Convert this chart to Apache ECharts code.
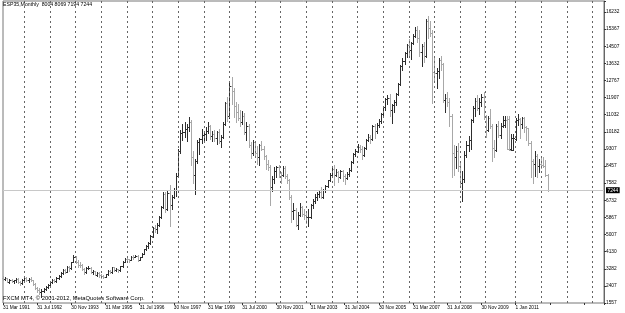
<!DOCTYPE html>
<html>
<head>
<meta charset="utf-8">
<script src="https://cdn.jsdelivr.net/npm/echarts@6/dist/echarts.min.js"></script>
<style>html,body{margin:0;padding:0;background:#fff}#c{width:625px;height:313px}</style>
</head>
<body>
<div id="c"></div>
<script>
const symbolTitle = 'ESP35,Monthly  8004 8069 7194 7244';
const copyright = 'FXCM MT4, \u00a9 2001-2012, MetaQuotes Software Corp.';
const dateLabels = ['31 Mar 1991','31 Jul 1992','30 Nov 1993','31 Mar 1995','31 Jul 1996','30 Nov 1997','31 Mar 1999','31 Jul 2000','30 Nov 2001','31 Mar 2003','31 Jul 2004','30 Nov 2005','31 Mar 2007','31 Jul 2008','30 Nov 2009','1 Jan 2011'];
const priceLabels = ['1557','2407','3282','4130','5007','5867','6732','7582','8457','9307','10182','11032','11907','12767','13632','14507','15367','16232'];
const yearStarts = [10,22,34,46,58,70,82,94,106,118,130,142,154,166,178,190,202,214,226,240,252,264,276];
const lastPrice = 7244;

const opens = [2820,2760,2830,2640,2720,2660,2700,2760,2600,
2558,2720,2830,2700,2760,2720,2540,2300,2200,2100,2180,2280,
2345,2460,2620,2700,2650,2820,2920,3050,3220,3120,3360,3300,
3615,3900,3640,3480,3450,3280,3100,3300,3330,3110,3150,2990,
3088,2950,2900,2880,3000,3170,3100,3350,3200,3260,3200,3400,
3630,3800,3770,3720,3900,3880,3950,3750,3880,4050,4270,4450,
4558,4950,5350,5300,5500,5900,6400,7050,6300,7100,6500,6900,
7255,7950,9200,10150,10200,10350,10450,10700,8900,8000,8700,9650,
9837,10050,10100,10250,10500,10000,10100,9900,10200,9750,9950,10600,
11641,11000,12500,12250,11500,11200,10900,10700,11000,10200,10500,9500,
9110,9650,9100,8900,9500,9300,8950,8550,8400,7400,7800,8200,
8398,8100,8000,8350,7950,7750,6900,6200,6250,5500,6000,6400,
6037,6000,5900,5900,6500,6700,6900,7050,7150,6900,7250,7450,
7737,8000,8300,8000,8150,7900,8200,7950,7850,8050,8250,8650,
9081,9200,9400,9300,9000,9350,9800,9950,9850,10500,10250,10550,
10734,11100,11450,11850,11900,11300,11550,11700,12100,12600,13500,13750,
14146,14550,14300,14650,15000,15300,14900,14200,14500,14000,15800,15400,
15182,13200,13150,13250,13800,13600,11800,11900,11700,10980,9100,8900,
9196,8450,7600,7800,9000,9500,9800,10800,11400,11750,11400,11700,
11940,10950,10300,10900,10500,9350,9250,10500,10050,10500,10520,10800,10810,9300,9270,
9850,10800,10850,10580,10880,10450,10360,9630,8700,8550,8950,8450,
8566,8510,8465,8004];
const highs = [2900,2860,2840,2760,2790,2730,2800,2820,2660,
2780,2880,2870,2800,2850,2740,2560,2360,2290,2250,2330,2420,
2520,2660,2760,2780,2860,2960,3100,3260,3260,3400,3420,3640,
3965,3930,3700,3600,3520,3320,3350,3420,3360,3200,3180,3120,
3100,3010,2950,3040,3200,3220,3380,3370,3330,3290,3420,3650,
3840,3880,3800,3930,3960,4000,3980,3900,4080,4300,4470,4620,
5000,5400,5500,5600,5950,6450,7150,7150,7200,7500,7000,7350,
8100,9300,10300,10600,10700,10600,10950,10800,9200,8800,9800,9900,
10350,10250,10450,10700,10550,10250,10300,10250,10350,10050,10700,11700,
11950,12650,12936,12400,11700,11600,11300,11250,11150,10700,10600,9650,
9800,9700,9450,9550,9750,9450,9000,8750,8500,7950,8400,8450,
8500,8150,8450,8450,8050,7800,7000,6600,6350,6150,6600,6450,
6300,6100,6300,6550,6800,7050,7150,7250,7400,7300,7500,7780,
8100,8400,8500,8300,8200,8250,8250,8050,8150,8350,8700,9100,
9300,9550,9500,9450,9400,9850,10100,10050,10550,10600,10650,10850,
11150,11500,11900,12050,12100,11600,11800,12150,12650,13550,13900,14200,
14600,14850,14700,15100,15450,15500,15300,14600,14700,15900,16040,15800,
15300,13900,13400,13900,14000,13650,12100,12200,11900,11100,9500,9450,
9600,8700,8200,9200,9700,10000,10850,11500,11900,12050,11900,12100,
12200,11050,11000,11350,10600,9800,10600,10750,10650,11000,11000,11000,11000,10100,10100,
10900,11100,10900,10950,10950,10500,10400,9700,8800,9200,9050,8800,
8900,8900,8750,8069];
const lows = [2720,2700,2600,2560,2600,2580,2640,2560,2460,
2540,2700,2660,2640,2680,2480,2250,2120,2000,1873,2120,2230,
2300,2440,2580,2600,2640,2780,2880,3020,3060,3100,3180,3280,
3600,3560,3380,3380,3230,3020,3080,3250,3060,3040,2950,2940,
2880,2840,2800,2860,2990,3060,3080,3160,3150,3120,3180,3380,
3600,3700,3640,3700,3800,3860,3660,3720,3860,4030,4230,4350,
4540,4900,5150,5100,5450,5850,6350,6150,6250,5450,6300,6850,
6950,7900,9100,9800,9950,9700,10250,8500,7600,7050,8600,9050,
9600,9700,9800,10150,9850,9700,9750,9550,9600,9400,9900,10550,
10750,10900,11600,10950,10700,10800,10500,10600,10100,9800,9400,8850,
9000,8950,8550,8500,9250,8800,8300,8250,6500,7200,7600,7900,
7900,7600,7950,7850,7600,6800,5650,5800,5450,5266,5950,5950,
5800,5600,5450,5850,6350,6600,6750,6900,6850,6850,7150,7400,
7700,7950,7500,7950,7650,7850,7700,7550,7800,7950,8200,8600,
8950,9150,9150,8800,8950,9300,9700,9600,9800,9900,10150,10450,
10650,11000,11300,11600,11000,10650,11200,11550,12050,12550,13300,13600,
13950,14000,13850,14600,14950,14700,14000,13500,13700,13950,14900,15000,
11650,12800,12400,12900,13300,11700,11200,11500,10500,7900,8000,8350,
8200,7400,6700,7650,8900,9200,9300,10700,11000,11300,11100,11500,
10850,9950,10250,10400,8700,8900,9200,9950,9900,10450,10450,9300,9250,9250,9250,
9800,10550,9900,10400,10200,9800,9500,7900,7600,7950,7900,8150,
8350,8400,7950,7194];
const closes = [2760,2830,2640,2720,2660,2700,2760,2600,2558,
2720,2830,2700,2760,2720,2540,2300,2200,2100,2180,2280,2345,
2460,2620,2700,2650,2820,2920,3050,3220,3120,3360,3300,3615,
3900,3640,3480,3450,3280,3100,3300,3330,3110,3150,2990,3088,
2950,2900,2880,3000,3170,3100,3350,3200,3260,3200,3400,3630,
3800,3770,3720,3900,3880,3950,3750,3880,4050,4270,4450,4558,
4950,5350,5300,5500,5900,6400,7050,6300,7100,6500,6900,7255,
7950,9200,10150,10200,10350,10450,10700,8900,8000,8700,9650,9837,
10050,10100,10250,10500,10000,10100,9900,10200,9750,9950,10600,11641,
11000,12500,12250,11500,11200,10900,10700,11000,10200,10500,9500,9110,
9650,9100,8900,9500,9300,8950,8550,8400,7400,7800,8200,8398,
8100,8000,8350,7950,7750,6900,6200,6250,5500,6000,6400,6037,
6000,5900,5900,6500,6700,6900,7050,7150,6900,7250,7450,7737,
8000,8300,8000,8150,7900,8200,7950,7850,8050,8250,8650,9081,
9200,9400,9300,9000,9350,9800,9950,9850,10500,10250,10550,10734,
11100,11450,11850,11900,11300,11550,11700,12100,12600,13500,13750,14146,
14550,14300,14650,15000,15300,14900,14200,14500,14000,15800,15400,15182,
13200,13150,13250,13800,13600,11800,11900,11700,10980,9100,8900,9196,
8450,7600,7800,9000,9500,9800,10800,11400,11750,11400,11700,11940,
10950,10300,10900,10500,9350,9250,10500,10050,10500,10800,10800,9300,9270,9859,9860,
10800,10850,10580,10880,10450,10360,9630,8700,8550,8950,8450,8566,
8510,8465,8008,7244];

const UP = '#2e2e2e', DOWN = '#a8a8a8';
const FONT = 'Liberation Sans';

const bars = opens.map((o, i) => [i, o, highs[i], lows[i], closes[i]]);

function renderItem(params, api) {
  const i = api.value(0), o = api.value(1), h = api.value(2), l = api.value(3), c = api.value(4);
  const pH = api.coord([i, h]), pL = api.coord([i, l]), pO = api.coord([i, o]), pC = api.coord([i, c]);
  const x = Math.round(pH[0]) + 0.5;
  const style = { stroke: c >= o ? UP : DOWN, lineWidth: 1 };
  const yo = Math.round(pO[1]) + 0.5, yc = Math.round(pC[1]) + 0.5;
  return { type: 'group', children: [
    { type: 'line', shape: { x1: x, y1: Math.round(pH[1]), x2: x, y2: Math.round(pL[1]) + 1 }, style },
    { type: 'line', shape: { x1: x - 1.5, y1: yo, x2: x, y2: yo }, style },
    { type: 'line', shape: { x1: x, y1: yc, x2: x + 1.5, y2: yc }, style }
  ]};
}

const chart = echarts.init(document.getElementById('c'), null, { renderer: 'canvas' });
chart.setOption({
  animation: false,
  backgroundColor: '#fff',
  textStyle: { fontFamily: FONT },
  title: [
    { text: symbolTitle, left: 3, top: 2, padding: 0, textStyle: { fontSize: 5.2, fontWeight: 'normal', color: '#000', fontFamily: FONT } },
    { text: copyright, left: 3, top: 295.5, padding: 0, textStyle: { fontSize: 5.8, fontWeight: 'normal', color: '#000', fontFamily: FONT } }
  ],
  grid: { left: 1, right: 21, top: 1, bottom: 10, show: true, borderColor: '#777', borderWidth: 1, backgroundColor: 'transparent' },
  xAxis: [{
    type: 'value', min: 0, max: 281.4, interval: 16,
    axisLine: { show: false },
    axisTick: { show: true, length: 2, lineStyle: { color: '#333' } },
    splitLine: { show: false },
    axisLabel: { fontSize: 4.8, color: '#000', align: 'left', margin: 2, fontFamily: FONT,
      formatter: v => (v % 16 === 0 && dateLabels[v / 16]) ? dateLabels[v / 16] : '' }
  }],
  yAxis: [
    { type: 'value', min: 1557, max: 16784, show: false, splitLine: { show: false } },
    { type: 'value', min: 0, max: 17.64, interval: 1, position: 'right',
      axisLine: { show: true, lineStyle: { color: '#666' } },
      axisTick: { show: true, length: 2, lineStyle: { color: '#333' } },
      splitLine: { show: false },
      axisLabel: { fontSize: 4.8, color: '#000', margin: 2, fontFamily: FONT,
        formatter: v => Number.isInteger(v) && priceLabels[v] ? priceLabels[v] : '' } }
  ],
  series: [
    {
      type: 'custom', xAxisIndex: 0, yAxisIndex: 0, renderItem: renderItem,
      encode: { x: 0, y: [1, 2, 3, 4] }, data: bars, clip: false, silent: true, z: 3
    },
    {
      type: 'line', xAxisIndex: 0, yAxisIndex: 0, data: [], silent: true, z: 2,
      markLine: {
        silent: true, symbol: ['none', 'none'], animation: false,
        data: yearStarts.map(v => ({ xAxis: v, lineStyle: { type: [2, 3], color: '#666', width: 1 }, label: { show: false } }))
          .concat([{ yAxis: lastPrice, lineStyle: { type: 'solid', color: '#c8c8c8', width: 1 },
            label: { show: true, position: 'end', formatter: String(lastPrice), distance: 2,
              backgroundColor: '#000', color: '#fff', fontSize: 4.8, padding: [0.6, 1.5, 0.4, 1.5], fontFamily: FONT } }])
      }
    }
  ]
});
</script>
</body>
</html>
